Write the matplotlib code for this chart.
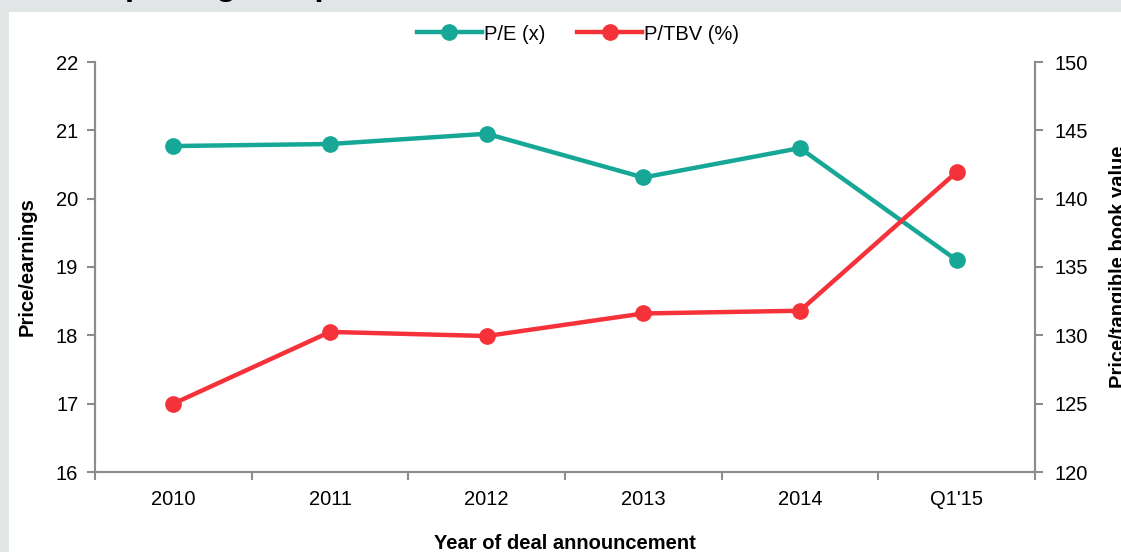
import matplotlib.pyplot as plt
from matplotlib.patches import Rectangle
from matplotlib.ticker import FixedLocator, NullFormatter

plt.rcParams['font.family'] = ['Liberation Sans', 'DejaVu Sans']

years = ['2010', '2011', '2012', '2013', '2014', "Q1'15"]
pe = [20.77, 20.80, 20.95, 20.31, 20.74, 19.10]
ptbv = [125.0, 130.25, 129.95, 131.6, 131.8, 141.95]

teal = '#17a797'
red = '#f5323a'
grey = '#8c8c8c'

fig = plt.figure(figsize=(11.21, 5.52), dpi=100)
fig.patch.set_facecolor('#e2e5e6')
fig.patches.append(Rectangle((9 / 1121, 0), 1, 1 - 12 / 552, transform=fig.transFigure,
                             facecolor='white', edgecolor='none', zorder=-5))
# title sits mostly above the crop, only the descenders show
fig.text(45 / 1121, 1 + 5 / 552, 'Deal pricing and premiums', fontsize=24, fontweight='bold',
         va='baseline', ha='left')

ax = fig.add_axes([95 / 1121, 1 - 472 / 552, (1035 - 95) / 1121, (472 - 62) / 552])
ax.patch.set_alpha(0)
ax2 = ax.twinx()

x = list(range(len(years)))
l1, = ax.plot(x, pe, color=teal, lw=3.2, marker='o', ms=11, label='P/E (x)', zorder=3)
l2, = ax2.plot(x, ptbv, color=red, lw=3.2, marker='o', ms=11, label='P/TBV (%)', zorder=3)

ax.set_xlim(-0.5, 5.5)
ax.set_ylim(16, 22)
ax2.set_ylim(120, 150)
ax2.set_yticks(range(120, 151, 5))

ax.set_xticks(x)
ax.set_xticklabels(years)
ax.xaxis.set_minor_locator(FixedLocator([i - 0.5 for i in range(7)]))
ax.xaxis.set_minor_formatter(NullFormatter())
ax.tick_params(axis='x', which='major', length=0, pad=13, labelsize=14.5)
ax.tick_params(axis='x', which='minor', length=6, width=1.5, color=grey, direction='out')
ax.tick_params(axis='y', length=6, width=1.5, color=grey, labelsize=14.5, pad=6)
ax2.tick_params(axis='y', length=6, width=1.5, color=grey, labelsize=14.5, pad=8)

for a in (ax, ax2):
    a.spines['top'].set_visible(False)
    for s in ('left', 'right', 'bottom'):
        a.spines[s].set_color(grey)
        a.spines[s].set_linewidth(1.5)

ax.set_xlabel('Year of deal announcement', fontsize=14.5, fontweight='bold', labelpad=18)
ax.set_ylabel('Price/earnings', fontsize=14.5, fontweight='bold', labelpad=14)
ax2.set_ylabel('Price/tangible book value', fontsize=14.5, fontweight='bold', labelpad=15)

fig.legend(handles=[l1, l2], loc='center', bbox_to_anchor=(578 / 1121, 1 - 34 / 552),
           ncol=2, frameon=False, fontsize=14.5, handlelength=3.2, handletextpad=0.1,
           columnspacing=1.6)

fig.savefig('out.png', dpi=100)
